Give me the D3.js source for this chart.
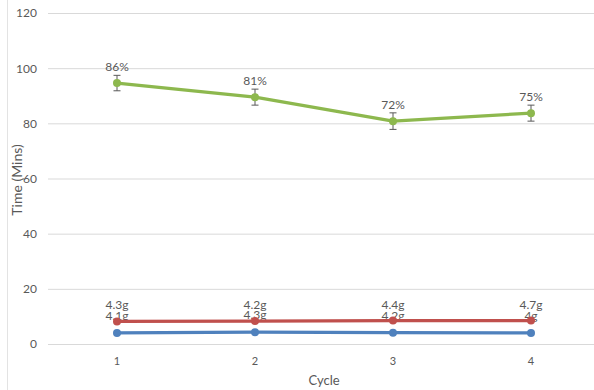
<!DOCTYPE html>
<html><head><meta charset="utf-8">
<script src="https://cdn.jsdelivr.net/npm/d3@7"></script>
<style>body{margin:0;background:#fff;}svg{display:block;}</style>
</head><body>
<svg id="c" width="594" height="390"></svg>
<script>
const cycles = ["1","2","3","4"];
const yTicks = [0,20,40,60,80,100,120];
const greenVals = [94.6, 89.5, 80.8, 83.7];
const greenErr = [2.8, 2.9, 3.0, 2.9];
const greenLabels = ["86%","81%","72%","75%"];
const redVals = [8.2, 8.3, 8.5, 8.5];
const redLabels = ["4.3g","4.2g","4.4g","4.7g"];
const blueVals = [4.0, 4.3, 4.1, 4.0];
const blueLabels = ["4.1g","4.3g","4.2g","4g"];

const svg = d3.select("#c");
const font = "Lato, 'Open Sans', sans-serif";
const txt = "#595959";
const mL = 48, mR = 600, mT = 13, mB = 344;

svg.append("line").attr("x1",7.5).attr("x2",7.5).attr("y1",0).attr("y2",390).attr("stroke","#e3e3e3");

const x = d3.scaleBand().domain(cycles).range([mL,mR]);
const y = d3.scaleLinear().domain([0,120]).range([mB,mT]);
const cx = d => x(d) + x.bandwidth()/2;

const gy = svg.append("g").attr("transform",`translate(${mL},0)`)
  .call(d3.axisLeft(y).tickValues(yTicks).tickSize(-(594-mL)).tickPadding(11));
gy.select(".domain").remove();
gy.selectAll(".tick line").attr("stroke","#d9d9d9");
gy.selectAll(".tick text").attr("fill",txt).style("font-family",font).style("font-size","12px");

const gx = svg.append("g").attr("transform",`translate(0,${mB})`)
  .call(d3.axisBottom(x).tickSize(0).tickPadding(13));
gx.select(".domain").remove();
gx.selectAll(".tick text").attr("fill",txt).style("font-family",font).style("font-size","11px");

svg.append("text").attr("x",324).attr("y",385).attr("text-anchor","middle")
  .attr("fill",txt).style("font-family",font).style("font-size","13px").text("Cycle");
svg.append("text").attr("transform","translate(22,180) rotate(-90)").attr("text-anchor","middle")
  .attr("fill",txt).style("font-family",font).style("font-size","14px").text("Time (Mins)");

function series(vals, color, labels, err, off) {
  const line = d3.line().x((d,i)=>cx(cycles[i])).y(d=>y(d));
  svg.append("path").datum(vals).attr("d",line).attr("fill","none")
    .attr("stroke",color).attr("stroke-width",3.2).attr("stroke-linejoin","round");
  if (err) {
    const g = svg.append("g").attr("stroke","#595959").attr("stroke-width",1);
    vals.forEach((v,i)=>{
      const xx = cx(cycles[i]);
      g.append("line").attr("x1",xx).attr("x2",xx).attr("y1",y(v+err[i])).attr("y2",y(v-err[i]));
      g.append("line").attr("x1",xx-3.5).attr("x2",xx+3.5).attr("y1",y(v+err[i])).attr("y2",y(v+err[i]));
      g.append("line").attr("x1",xx-3.5).attr("x2",xx+3.5).attr("y1",y(v-err[i])).attr("y2",y(v-err[i]));
    });
  }
  svg.append("g").selectAll("circle").data(vals).join("circle")
    .attr("cx",(d,i)=>cx(cycles[i])).attr("cy",d=>y(d)).attr("r",4).attr("fill",color);
  svg.append("g").selectAll("text").data(vals).join("text")
    .attr("x",(d,i)=>cx(cycles[i])).attr("y",d=>y(d)-off)
    .attr("text-anchor","middle").attr("fill",txt)
    .style("font-family",font).style("font-size","12px")
    .text((d,i)=>labels[i]);
}
series(blueVals, "#4f81bd", blueLabels, null, 13);
series(redVals, "#c0504d", redLabels, null, 12);
series(greenVals, "#8db84e", greenLabels, greenErr, 12);
</script>
</body></html>
